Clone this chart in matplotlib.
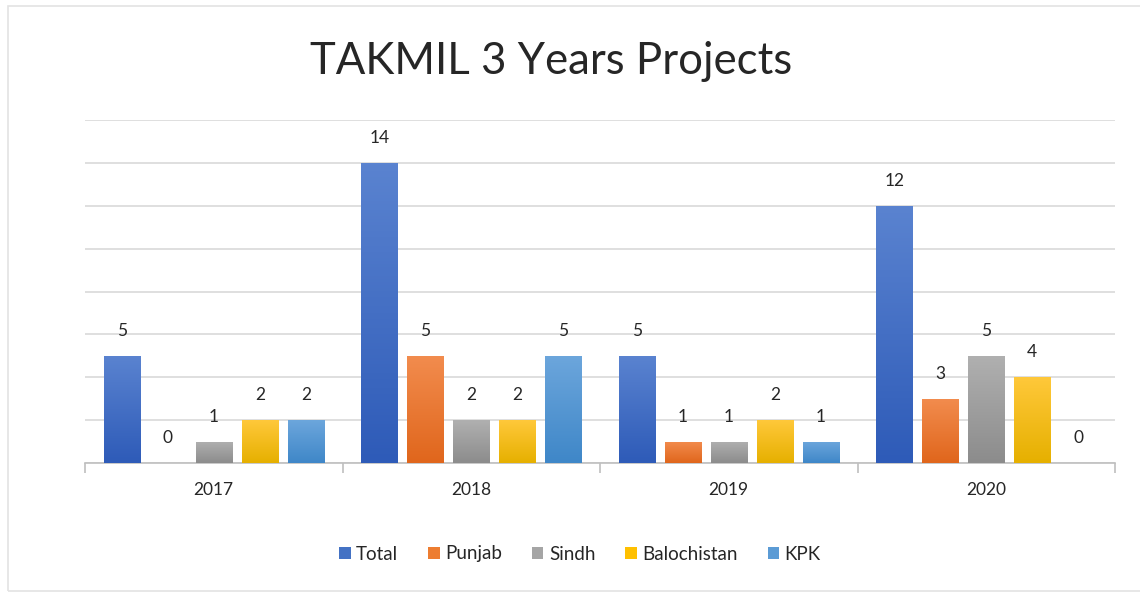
import matplotlib.pyplot as plt
import numpy as np
from matplotlib.colors import LinearSegmentedColormap, to_rgb
from matplotlib.patches import Patch, Rectangle

years = ["2017", "2018", "2019", "2020"]
series = ["Total", "Punjab", "Sindh", "Balochistan", "KPK"]
total = [5, 14, 5, 12]
punjab = [0, 5, 1, 3]
sindh = [1, 2, 1, 5]
balochistan = [2, 2, 2, 4]
kpk = [2, 5, 1, 0]
values = [total, punjab, sindh, balochistan, kpk]

# (top colour, bottom colour) per series, Excel-like gradient
colors = [
    ("#5a83d0", "#2e5bb8"),
    ("#f28c4e", "#e0661c"),
    ("#b0b0b0", "#8c8c8c"),
    ("#ffc83a", "#e6b000"),
    ("#6ca6dc", "#3f87c8"),
]
legend_colors = ["#4472c4", "#ed7d31", "#a5a5a5", "#ffc000", "#5b9bd5"]

plt.rcParams["font.family"] = ["Lato", "DejaVu Sans"]

fig = plt.figure(figsize=(11.4, 5.92), dpi=100)
fig.patches.append(Rectangle((8 / 1140, 1 / 592), 1.2, 585 / 592, transform=fig.transFigure,
                             fill=False, edgecolor="#e3e3e3", linewidth=1.2))
ax = fig.add_axes([85 / 1140, 1 - 463 / 592, 1030 / 1140, 343 / 592])

x = np.arange(len(years))
step = 0.1786
width = 0.14
for i, (name, vals) in enumerate(zip(series, values)):
    pos = x + (i - 2) * step
    bars = ax.bar(pos, vals, width, color=legend_colors[i], zorder=2)
    cmap = LinearSegmentedColormap.from_list(name, [to_rgb(colors[i][1]), to_rgb(colors[i][0])])
    for b, v in zip(bars, vals):
        if v > 0:
            grad = np.linspace(0, 1, 100).reshape(-1, 1)
            im = ax.imshow(grad, extent=[b.get_x(), b.get_x() + width, 0, v], origin="lower",
                           aspect="auto", cmap=cmap, zorder=3)
            im.set_clip_path(b)
        ax.annotate(str(v), (b.get_x() + width / 2, v), xytext=(0, 18), textcoords="offset points",
                    ha="center", va="center", fontsize=12.5, color="#262626")

ax.set_xlim(-0.5, len(years) - 0.5)
ax.set_ylim(0, 16)
ax.set_yticks(np.arange(0, 17, 2))
ax.yaxis.grid(True, color="#d9d9d9", linewidth=1.2, zorder=0)
ax.set_axisbelow(True)
ax.tick_params(axis="y", left=False, labelleft=False)
ax.set_xticks(x)
ax.set_xticklabels(years, fontsize=12.5, color="#262626")
ax.set_xticks(np.arange(-0.5, len(years)), minor=True)
ax.tick_params(axis="x", which="major", length=0, pad=14)
ax.tick_params(axis="x", which="minor", length=7, color="#bfbfbf", width=1.2)
for s in ["top", "right", "left"]:
    ax.spines[s].set_visible(False)
ax.spines["bottom"].set_color("#bfbfbf")
ax.spines["bottom"].set_linewidth(1.2)

fig.text(551 / 1140, 1 - 62 / 592, "TAKMIL 3 Years Projects", ha="center", va="center",
         fontsize=31.5, color="#262626")

handles = [Patch(facecolor=c, label=n) for c, n in zip(legend_colors, series)]
fig.legend(handles=handles, loc="center", bbox_to_anchor=(580 / 1140, 1 - 554 / 592), ncol=5,
           frameon=False, fontsize=13.5, handlelength=0.6, handleheight=0.6,
           handletextpad=0.3, columnspacing=1.6, labelcolor="#262626")

fig.savefig("out.png", dpi=100)
